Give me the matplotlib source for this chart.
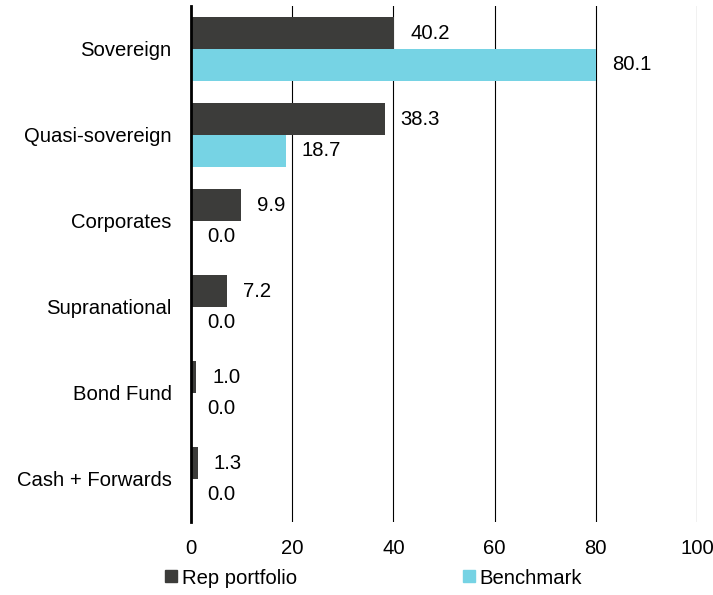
"""Rep portfolio vs benchmark sector breakdown, horizontal bars."""

import matplotlib.pyplot as plt
import numpy as np
from matplotlib.lines import Line2D

categories = ["Sovereign", "Quasi-sovereign", "Corporates", "Supranational", "Bond Fund", "Cash + Forwards"]
rep_portfolio = [40.2, 38.3, 9.9, 7.2, 1.0, 1.3]
benchmark = [80.1, 18.7, 0.0, 0.0, 0.0, 0.0]
x_ticks = [0, 20, 40, 60, 80, 100]

dark = "#3c3c3a"
blue = "#76d3e4"
fs = 14.6

plt.rcParams["font.family"] = ["Liberation Sans", "DejaVu Sans"]

fig = plt.figure(figsize=(7.13, 5.95), dpi=100)
ax = fig.add_axes([191 / 713, 1 - 522 / 595, 506 / 713, 516 / 595])

y = np.arange(len(categories))
h = 0.372
ax.barh(y - h / 2, rep_portfolio, height=h, color=dark, zorder=3)
ax.barh(y + h / 2, benchmark, height=h, color=blue, zorder=3)

# value labels sit just right of the bar end on a white box
for i in range(len(categories)):
	for val, off in ((rep_portfolio[i], -h / 2), (benchmark[i], h / 2)):
		ax.annotate(
			f"{val:.1f}",
			xy=(val, y[i] + off),
			xytext=(11.5, 0),
			textcoords="offset points",
			ha="left",
			va="center",
			fontsize=fs,
			color="black",
			bbox=dict(boxstyle="square,pad=0.2", fc="white", ec="none"),
			zorder=4,
		)

ax.set_xlim(0, 100)
ax.set_ylim(len(categories) - 0.5, -0.5)
ax.set_xticks(x_ticks)
ax.set_xticklabels([str(t) for t in x_ticks], fontsize=fs)
ax.set_yticks(y)
ax.set_yticklabels(categories, fontsize=fs)
ax.tick_params(axis="both", length=0)
ax.tick_params(axis="x", pad=12)
ax.tick_params(axis="y", pad=14)
ax.grid(True, axis="x", color="black", linewidth=0.8, zorder=0)
for side in ("top", "right", "bottom"):
	ax.spines[side].set_visible(False)
ax.spines["left"].set_linewidth(2)
ax.spines["left"].set_zorder(5)

handles = [
	Line2D([], [], marker="s", linestyle="none", color=dark, markersize=9),
	Line2D([], [], marker="s", linestyle="none", color=blue, markersize=9),
]
fig.legend(
	handles,
	["Rep portfolio", "Benchmark"],
	loc="center",
	bbox_to_anchor=(0.521, 1 - 578 / 595),
	ncol=2,
	frameon=False,
	fontsize=fs,
	handletextpad=0.0,
	columnspacing=8.0,
	handlelength=1.0,
)

fig.savefig("out.png", dpi=100)
